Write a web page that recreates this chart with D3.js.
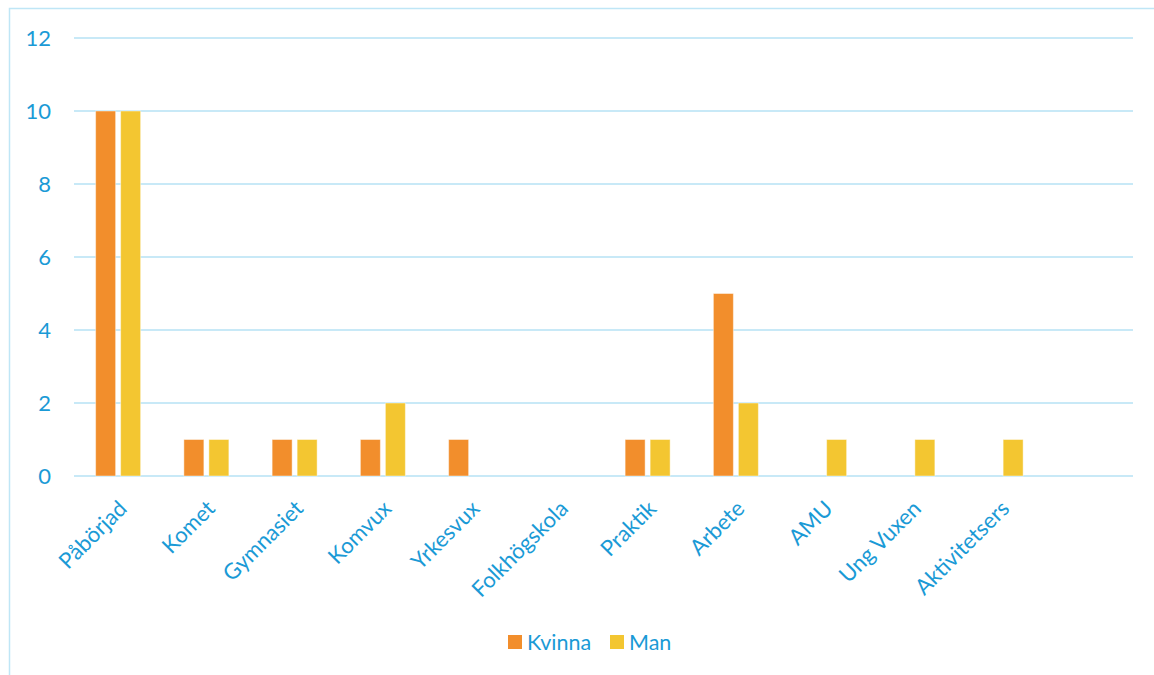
<!DOCTYPE html>
<html>
<head>
<meta charset="utf-8">
<script src="https://cdn.jsdelivr.net/npm/d3@7"></script>
<style>
  html, body { margin: 0; padding: 0; background: #fff; }
  svg { display: block; }
</style>
</head>
<body>
<svg id="chart" width="1154" height="675"></svg>
<script>
const categories = ["Påbörjad", "Komet", "Gymnasiet", "Komvux", "Yrkesvux", "Folkhögskola", "Praktik", "Arbete", "AMU", "Ung Vuxen", "Aktivitetsers", ""];
const seriesNames = ["Kvinna", "Man"];
const kvinna = [10, 1, 1, 1, 1, 0, 1, 5, 0, 0, 0, 0];
const man = [10, 1, 1, 2, 0, 0, 1, 2, 1, 1, 1, 0];
const yTicks = [0, 2, 4, 6, 8, 10, 12];
const colors = ["#F28E2C", "#F3C631"];

const textColor = "#1A9AD6";
const gridColor = "#C8E9F7";
const font = "Lato, 'Liberation Sans', sans-serif";

const svg = d3.select("#chart");

// chart frame border
svg.append("path")
  .attr("d", "M9.5,680 L9.5,8.5 L1160,8.5")
  .attr("fill", "none")
  .attr("stroke", "#BFE6F6")
  .attr("stroke-width", 1.5);

const plotLeft = 74, plotRight = 1133, plotTop = 38, plotBottom = 476;

const x = d3.scaleBand().domain(categories.map((d, i) => i)).range([plotLeft, plotRight]).padding(0);
const y = d3.scaleLinear().domain([0, 12]).range([plotBottom, plotTop]);

// gridlines
svg.append("g").selectAll("line").data(yTicks).join("line")
  .attr("x1", plotLeft).attr("x2", plotRight)
  .attr("y1", d => y(d)).attr("y2", d => y(d))
  .attr("stroke", gridColor).attr("stroke-width", 2);

// y axis labels
const yAxis = d3.axisLeft(y).tickValues(yTicks).tickSize(0).tickPadding(0);
const yg = svg.append("g").attr("transform", `translate(51,0)`).call(yAxis);
yg.select(".domain").remove();
yg.selectAll("text")
  .attr("fill", textColor)
  .style("font-family", font)
  .style("font-size", "22px")
  .attr("dy", "0.35em");

// bars
const barW = 20, gap = 5;
const series = [kvinna, man];
series.forEach((vals, s) => {
  svg.append("g").selectAll("rect").data(vals.map((v, i) => ({ v, i })).filter(d => d.v > 0)).join("rect")
    .attr("x", d => x(d.i) + x.bandwidth() / 2 - (barW * 2 + gap) / 2 + s * (barW + gap))
    .attr("y", d => y(d.v))
    .attr("width", barW)
    .attr("height", d => y(0) - y(d.v))
    .attr("fill", colors[s])
    .attr("stroke", "rgba(255,255,255,0.45)")
    .attr("stroke-width", 1);
});

// x labels
const xAxis = d3.axisBottom(x).tickSize(0).tickFormat(i => categories[i]);
const xg = svg.append("g").attr("transform", `translate(0,${plotBottom})`).call(xAxis);
xg.select(".domain").remove();
xg.selectAll(".tick text")
  .attr("fill", textColor)
  .style("font-family", font)
  .style("font-size", "22px")
  .attr("text-anchor", "end")
  .attr("dy", null)
  .attr("y", 0)
  .attr("transform", "translate(10,34) rotate(-45)");

// legend
const legend = svg.append("g");
const legendItems = [{ name: seriesNames[0], x: 508 }, { name: seriesNames[1], x: 610 }];
legendItems.forEach((d, i) => {
  legend.append("rect").attr("x", d.x).attr("y", 635).attr("width", 14).attr("height", 14).attr("fill", colors[i]);
  legend.append("text").attr("x", d.x + 19).attr("y", 650)
    .attr("fill", textColor)
    .style("font-family", font)
    .style("font-size", "21.5px")
    .text(d.name);
});
</script>
</body>
</html>
